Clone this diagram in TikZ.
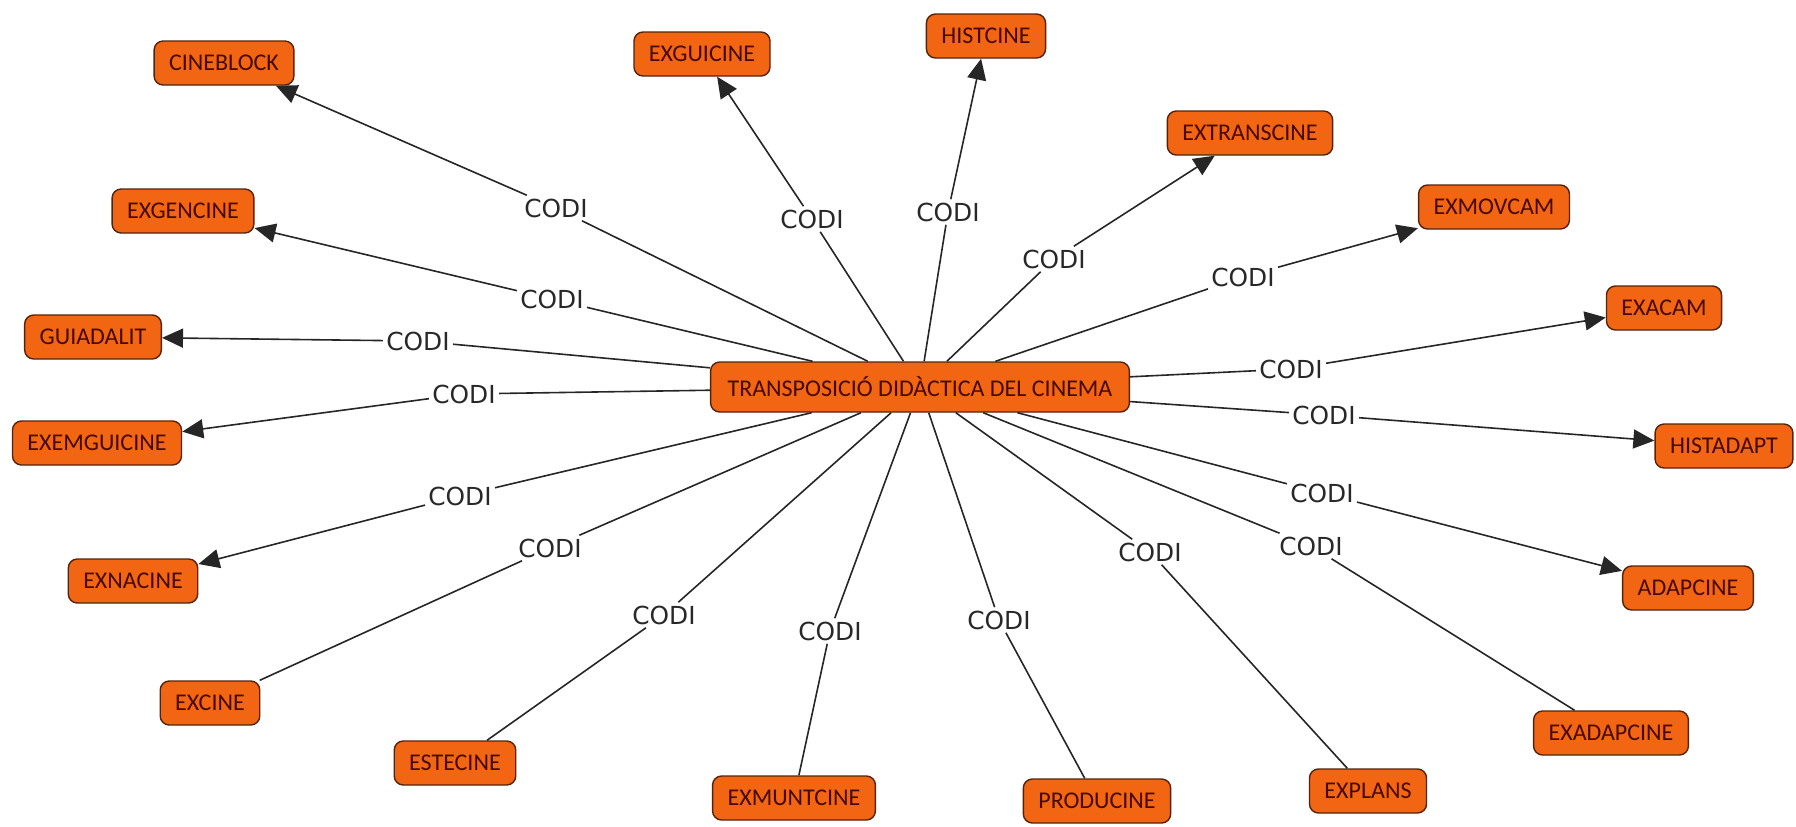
\documentclass[tikz,border=0pt]{standalone}
\usepackage{fontspec}
\setmainfont{Carlito}
\newfontfamily\codifont{DejaVu Sans}
\usepackage{tikz}
\usetikzlibrary{arrows.meta}
\usetikzlibrary{positioning}
\definecolor{cmaporange}{RGB}{242,101,18}
\definecolor{cmapborder}{RGB}{85,35,10}
\definecolor{cmaptext}{RGB}{70,10,0}
\definecolor{codigray}{RGB}{40,40,40}

\begin{document}
\begin{tikzpicture}[x=0.5pt, y=-0.5pt,
	concept/.style={draw=cmapborder, fill=cmaporange, rounded corners=4.5pt, line width=0.7pt, text=cmaptext, font=\fontsize{12}{14}\selectfont, inner xsep=7.5pt, minimum height=22pt},
	linkword/.style={text=codigray, font=\codifont\fontsize{12.4}{14}\selectfont, inner sep=1.5pt},
	link/.style={line width=0.8pt, draw=black!85},
	tolink/.style={link, -{Triangle[length=10.5pt,width=9.5pt]}}]
	\useasboundingbox (0,0) rectangle (1796,826);

	% concepts
	\node[concept, minimum height=25pt, inner xsep=8.5pt] (tdc) at (920,387) {TRANSPOSICIÓ DIDÀCTICA DEL CINEMA};
	\node[concept] (cineblock) at (224,63) {CINEBLOCK};
	\node[concept] (exguicine) at (702,54) {EXGUICINE};
	\node[concept] (histcine) at (986,36) {HISTCINE};
	\node[concept] (extranscine) at (1250,133) {EXTRANSCINE};
	\node[concept] (exmovcam) at (1494,207) {EXMOVCAM};
	\node[concept] (exacam) at (1664,308) {EXACAM};
	\node[concept] (histadapt) at (1724,446) {HISTADAPT};
	\node[concept] (adapcine) at (1688,588) {ADAPCINE};
	\node[concept] (exadapcine) at (1611,733) {EXADAPCINE};
	\node[concept] (explans) at (1368,791) {EXPLANS};
	\node[concept] (producine) at (1097,801) {PRODUCINE};
	\node[concept] (exmuntcine) at (794,798) {EXMUNTCINE};
	\node[concept] (estecine) at (455,763) {ESTECINE};
	\node[concept] (excine) at (210,703) {EXCINE};
	\node[concept] (exnacine) at (133,581) {EXNACINE};
	\node[concept] (exemguicine) at (97,443) {EXEMGUICINE};
	\node[concept] (guiadalit) at (93,337) {GUIADALIT};
	\node[concept] (exgencine) at (183,211) {EXGENCINE};

	% linking words
	\node[linkword] (c1) at (556,208) {CODI};
	\node[linkword] (c2) at (812,219) {CODI};
	\node[linkword] (c3) at (948,212) {CODI};
	\node[linkword] (c4) at (1054,259) {CODI};
	\node[linkword] (c5) at (1243,277) {CODI};
	\node[linkword] (c6) at (1291,369) {CODI};
	\node[linkword] (c7) at (1324,415) {CODI};
	\node[linkword] (c8) at (1322,493) {CODI};
	\node[linkword] (c9) at (1311,546) {CODI};
	\node[linkword] (c10) at (1150,552) {CODI};
	\node[linkword] (c11) at (999,620) {CODI};
	\node[linkword] (c12) at (830,631) {CODI};
	\node[linkword] (c13) at (664,615) {CODI};
	\node[linkword] (c14) at (550,548) {CODI};
	\node[linkword] (c15) at (460,496) {CODI};
	\node[linkword] (c16) at (464,394) {CODI};
	\node[linkword] (c17) at (418,341) {CODI};
	\node[linkword] (c18) at (552,299) {CODI};

	% links with arrowhead
	\draw[link] (tdc) -- (c1);  \draw[tolink] (c1) -- (cineblock);
	\draw[link] (tdc) -- (c2);  \draw[tolink] (c2) -- (exguicine);
	\draw[link] (tdc) -- (c3);  \draw[tolink] (c3) -- (histcine);
	\draw[link] (tdc) -- (c4);  \draw[tolink] (c4) -- (extranscine);
	\draw[link] (tdc) -- (c5);  \draw[tolink] (c5) -- (exmovcam);
	\draw[link] (tdc) -- (c6);  \draw[tolink] (c6) -- (exacam);
	\draw[link] (tdc) -- (c7);  \draw[tolink] (c7) -- (histadapt);
	\draw[link] (tdc) -- (c8);  \draw[tolink] (c8) -- (adapcine);
	\draw[link] (tdc) -- (c15); \draw[tolink] (c15) -- (exnacine);
	\draw[link] (tdc) -- (c16); \draw[tolink] (c16) -- (exemguicine);
	\draw[link] (tdc) -- (c17); \draw[tolink] (c17) -- (guiadalit);
	\draw[link] (tdc) -- (c18); \draw[tolink] (c18) -- (exgencine);

	% links without arrowhead
	\draw[link] (tdc) -- (c9);  \draw[link] (c9) -- (exadapcine);
	\draw[link] (tdc) -- (c10); \draw[link] (c10) -- (explans);
	\draw[link] (tdc) -- (c11); \draw[link] (c11) -- (producine);
	\draw[link] (tdc) -- (c12); \draw[link] (c12) -- (exmuntcine);
	\draw[link] (tdc) -- (c13); \draw[link] (c13) -- (estecine);
	\draw[link] (tdc) -- (c14); \draw[link] (c14) -- (excine);
\end{tikzpicture}
\end{document}
